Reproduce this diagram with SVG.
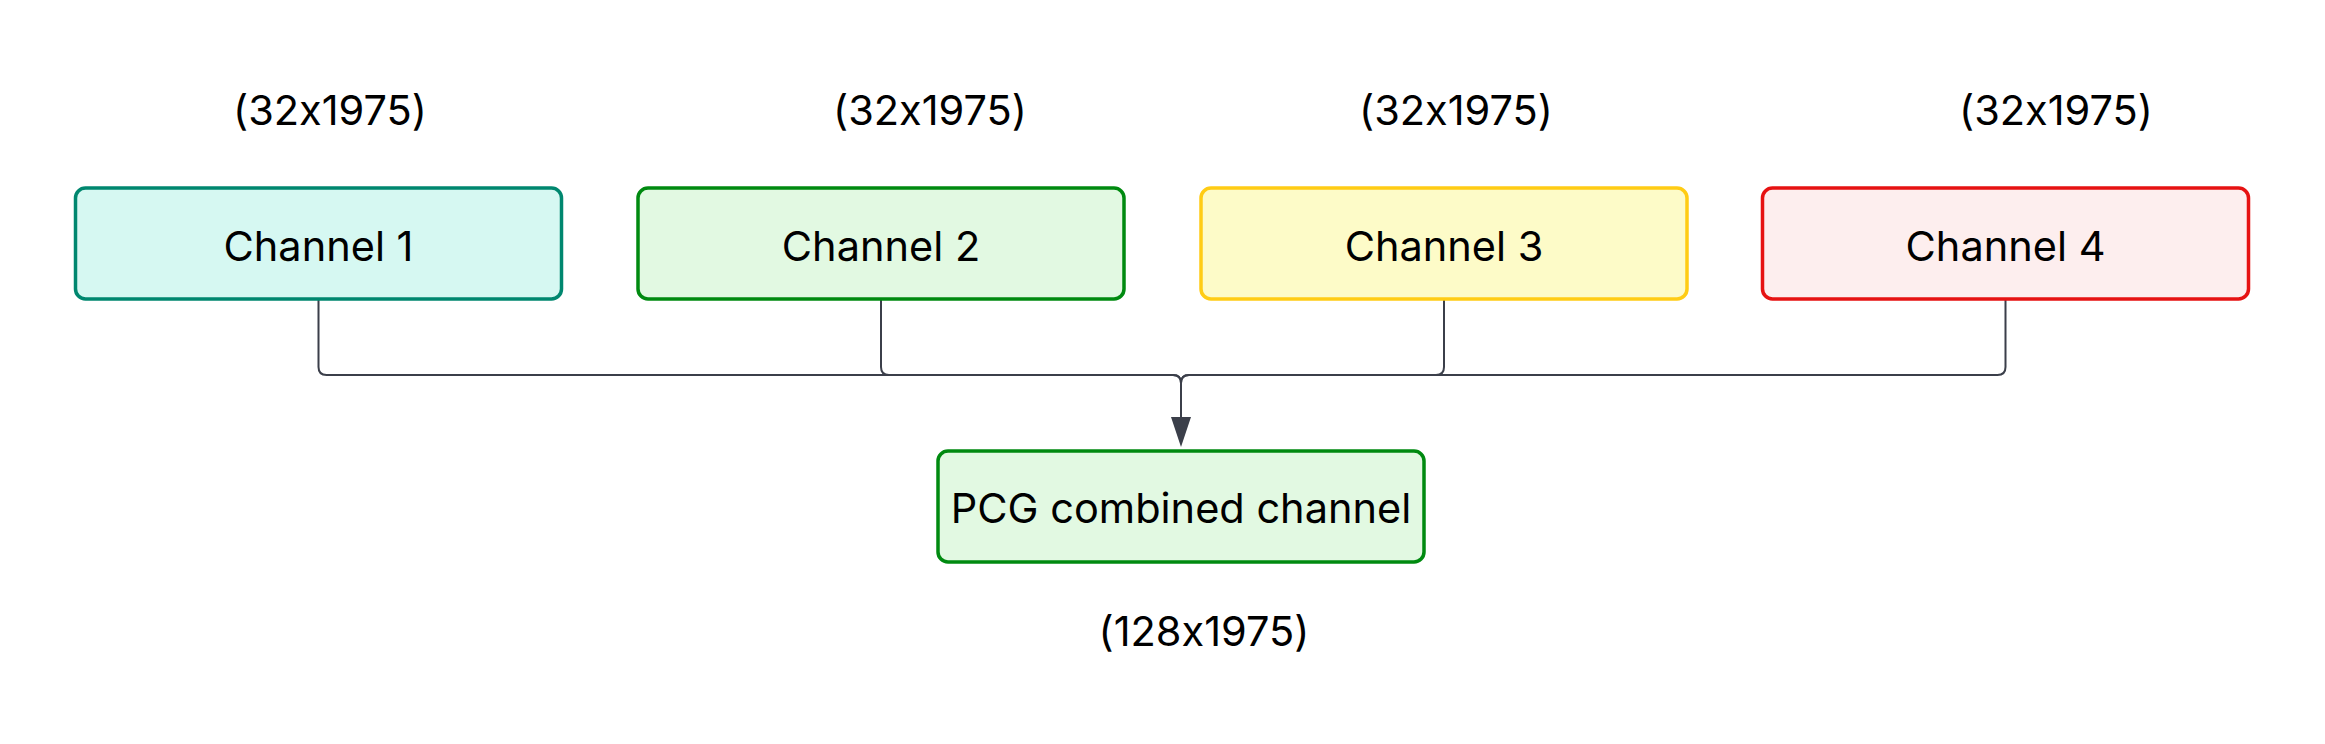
<svg xmlns="http://www.w3.org/2000/svg" width="2325" height="744" viewBox="0 0 2325 744">
<style>
.box{stroke-width:3.5}
.t{font-family:Inter,"Noto Sans","Liberation Sans",sans-serif;font-size:41.5px;fill:#000;text-anchor:middle;font-feature-settings:"calt" 0;font-variant-ligatures:no-contextual}
.edge{fill:none;stroke:#3b3f4a;stroke-width:2}
</style>
<rect width="2325" height="744" fill="#ffffff"/>
<g id="edges">
<path class="edge" d="M318.5,300 V367 Q318.5,375 326.5,375 H1173 Q1181,375 1181,383 V417"/>
<path class="edge" d="M881,300 V367 Q881,375 889,375 H1173 Q1181,375 1181,383 V417"/>
<path class="edge" d="M1444,300 V367 Q1444,375 1436,375 H1189 Q1181,375 1181,383 V417"/>
<path class="edge" d="M2005.5,300 V367 Q2005.5,375 1997.5,375 H1189 Q1181,375 1181,383 V417"/>
<path d="M1171,417 L1191,417 L1181,447 Z" fill="#3b3f4a"/>
</g>
<g id="channel1">
<rect class="box" x="75.5" y="188" width="486" height="111" rx="10" fill="#d6f8f2" stroke="#00876f"/>
<text class="t" x="318.5" y="261">Channel 1</text>
<text class="t" x="330" y="125">(32x1975)</text>
</g>
<g id="channel2">
<rect class="box" x="638" y="188" width="486" height="111" rx="10" fill="#e2f9e2" stroke="#008a10"/>
<text class="t" x="881" y="261">Channel 2</text>
<text class="t" x="930" y="125">(32x1975)</text>
</g>
<g id="channel3">
<rect class="box" x="1201" y="188" width="486" height="111" rx="10" fill="#fdfbc8" stroke="#ffcc14"/>
<text class="t" x="1444" y="261">Channel 3</text>
<text class="t" x="1456" y="125">(32x1975)</text>
</g>
<g id="channel4">
<rect class="box" x="1762.5" y="188" width="486" height="111" rx="10" fill="#fdeeee" stroke="#e61212"/>
<text class="t" x="2005.5" y="261">Channel 4</text>
<text class="t" x="2056" y="125">(32x1975)</text>
</g>
<g id="pcg">
<rect class="box" x="938" y="451" width="486" height="111" rx="10" fill="#e2f9e2" stroke="#008a10"/>
<text class="t" x="1181" y="523">PCG combined channel</text>
<text class="t" x="1204" y="646">(128x1975)</text>
</g>
</svg>
